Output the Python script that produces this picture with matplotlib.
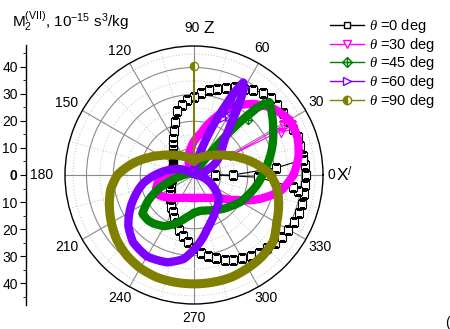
import numpy as np
import matplotlib
matplotlib.use('Agg')
import matplotlib.pyplot as plt
from matplotlib.lines import Line2D
from matplotlib.path import Path

plt.rcParams['font.family'] = ['Liberation Sans', 'DejaVu Sans']
plt.rcParams['mathtext.fontset'] = 'custom'
plt.rcParams['mathtext.rm'] = 'Liberation Sans'
plt.rcParams['mathtext.it'] = 'Liberation Serif:italic'

# ---- M2 values (10^-15 s^3/kg) vs azimuth phi (deg) in the X'Z plane ----
# theta = 0 deg
phi_0 = list(range(0, 360, 5))
r_0 = [41.5, 41.3, 41, 41, 41, 40.8, 40.5, 40.5, 40.5, 40.3, 40, 38.5,
       37, 36, 34.5, 33, 32, 30.5, 29, 28, 26.5, 24.5, 21, 18,
       15.5, 13.5, 12, 11, 10, 9.5, 9, 8.7, 8.5, 8.2, 8, 8,
       8, 8.2, 8.5, 8.7, 9, 9.5, 10, 10.7, 11.5, 12.5, 13.5, 14.7,
       16, 17.5, 19, 21, 23, 25, 27, 29, 30.5, 32, 33.5, 34.7,
       35.8, 36.8, 37.7, 38.5, 39.2, 40, 40.6, 41, 41.4, 41.6, 41.6, 41.6]
# scattered values near phi = 0
phi_0s = [351, 353, 358, 0, 0, 5, 8]
r_0s = [39, 37, 23.7, 7.8, 14.4, 30.8, 41]

# theta = 30 deg
phi_30 = [0, 10, 20, 30, 40, 50, 60, 70, 80, 90, 100, 110, 120, 130, 140, 150,
          160, 170, 180, 190, 200, 210, 220, 230, 240, 250, 260, 270, 280,
          290, 300, 310, 320, 330, 340, 350]
r_30 = [37, 39.5, 41, 41, 38.5, 34.5, 29.5, 22.5, 16, 12.5, 9, 6, 3, 1, 0.5, 1.5,
        3.5, 6.5, 10.5, 13.5, 15, 15, 13, 11, 9.8, 9, 8.6, 8.5, 8.6,
        9, 9.8, 11, 13.5, 18.5, 26, 33]
phi_30s = [25, 26, 27, 28, 29, 30]
r_30s = [40.5, 36, 41, 15, 38, 40.5]

# theta = 45 deg
phi_45 = [0, 10, 20, 30, 40, 44, 47, 50, 53, 57, 65, 80, 100, 120, 140, 160,
          175, 185, 190, 195, 200, 205, 210, 217, 225, 230, 240, 250, 260,
          270, 280, 290, 300, 310, 320, 330, 340, 350]
r_45 = [25.5, 28, 31, 34, 37.5, 39, 34, 22.5, 10, 4, 1.5, 0.8, 0.5, 0.5, 0.8, 1.5,
        3, 5, 7, 9.5, 13, 16.5, 20, 24, 24, 23.5, 22, 19, 16,
        14, 13.5, 14, 15, 16.5, 18, 20, 21.5, 23.5]
phi_45s = [44, 45.5, 46]
r_45s = [39, 28.5, 37]

# theta = 60 deg
phi_60 = [0, 10, 20, 30, 40, 45, 50, 54, 57, 60, 62, 64, 66, 68, 70, 73, 76,
          80, 90, 100, 120, 140, 150, 160, 170, 180, 189, 200, 207, 218, 228,
          240, 253, 263, 272, 283, 290, 299, 310, 316, 320, 330, 340, 350]
r_60 = [1, 2, 5, 9.5, 13, 15, 18, 23, 30, 37, 39, 34, 27, 22, 17, 11, 7,
        4, 1.5, 0.7, 0.5, 1.5, 3.5, 6.5, 10, 14.5, 19, 23.5, 26.5, 31, 33.8,
        35, 34, 31.5, 26.7, 21, 18.5, 16, 14, 13, 11.5, 8, 5, 2.5]
phi_60s = [58, 59, 60, 61, 62, 63, 64]
r_60s = [30, 25, 38, 28, 36, 24, 33]

# theta = 90 deg
phi_90 = [0, 10, 20, 30, 40, 50, 60, 70, 80, 90, 100, 110, 120, 130, 140, 150,
          160, 170, 180, 190, 200, 210, 220, 230, 240, 250, 260, 270, 280,
          290, 300, 310, 320, 330, 340, 350]
r_90 = [28.5, 23.5, 18.5, 14.5, 11.5, 9.5, 8, 7, 6, 5, 6, 7, 8, 9.5, 11.5, 14.5,
        18.5, 23.5, 28.5, 31.5, 33.5, 35.5, 37.5, 39, 40, 40.5, 40.5, 40.5, 40.5,
        40.5, 40, 39.5, 38.5, 35.5, 33.5, 31.5]
phi_90s = [89, 90, 91]
r_90s = [5, 40.5, 5]

labels = [r'$\mathit{\theta}$ =0 deg', r'$\mathit{\theta}$ =30 deg',
          r'$\mathit{\theta}$ =45 deg', r'$\mathit{\theta}$ =60 deg',
          r'$\mathit{\theta}$ =90 deg']
angle_ticks = list(range(0, 360, 30))

c_mag, c_grn, c_pur, c_olv = '#ff00ff', '#008000', '#8000ff', '#808000'

# crossed diamond marker
cross_diamond = Path([(0, 1), (1, 0), (0, -1), (-1, 0), (0, 1), (0, 1), (0, -1), (-1, 0), (1, 0)],
                     [Path.MOVETO, Path.LINETO, Path.LINETO, Path.LINETO, Path.LINETO,
                      Path.MOVETO, Path.LINETO, Path.MOVETO, Path.LINETO])


def closed(phi, r):
    p = np.deg2rad(np.array(phi + [phi[0] + 360], dtype=float))
    return p, np.array(r + [r[0]], dtype=float)


def curved(lines, steps=24):
    # let the polar transform bend segments along (theta, r)
    for ln in lines:
        ln.get_path()._interpolation_steps = steps
    return lines


fig = plt.figure(figsize=(4.5, 3.29), dpi=100)
ax = fig.add_axes([65 / 450, 25 / 329, 258 / 450, 258 / 329], projection='polar')
ax.set_ylim(0, 48)
ax.set_xticks(np.deg2rad(angle_ticks))
ax.set_xticks(np.deg2rad(np.arange(15, 360, 30)), minor=True)
ax.set_yticks([10, 20, 30, 40])
ax.set_yticks([5, 15, 25, 35, 45], minor=True)
ax.set_xticklabels([])
ax.set_yticklabels([])
ax.grid(which='major', color='#8a8a8a', lw=0.8, ls='-')
ax.grid(which='minor', color='#c0c0c0', lw=0.7, ls=(0, (1, 2)))
ax.tick_params(axis='x', which='major', direction='inout', length=6, width=0.8, color='k')
ax.tick_params(axis='x', which='minor', direction='in', length=3, width=0.6, color='k')
ax.tick_params(axis='y', which='both', length=0)
ax.spines['polar'].set_linewidth(1.0)

# theta = 0 : open squares
p, r = closed(phi_0, r_0)
curved(ax.plot(p, r, color='k', lw=0.8, marker='s', ms=5.5, mfc='white', mec='k',
               mew=0.8, zorder=3))
ax.plot(np.deg2rad(phi_0s), r_0s, color='k', lw=0.8, marker='s', ms=5.5, mfc='white',
        mec='k', mew=0.8, zorder=3)

# dense-marker curves drawn as bands
for phi, rr, sphi, sr, col, mk, z in [
        (phi_30, r_30, phi_30s, r_30s, c_mag, 'v', 4),
        (phi_45, r_45, phi_45s, r_45s, c_grn, cross_diamond, 5),
        (phi_60, r_60, phi_60s, r_60s, c_pur, '>', 6)]:
    p, r = closed(phi, rr)
    curved(ax.plot(p, r, color=col, lw=6, solid_joinstyle='round', solid_capstyle='round',
                   zorder=z))
    ax.plot(np.deg2rad(sphi), sr, color=col, lw=0.8, marker=mk, ms=6, mfc='none',
            mec=col, mew=0.9, zorder=z)

p, r = closed(phi_90, r_90)
curved(ax.plot(p, r, color=c_olv, lw=6.5, solid_joinstyle='round', zorder=7))
ax.plot(np.deg2rad(phi_90s), r_90s, color=c_olv, lw=1.2, zorder=7)
ax.plot(np.deg2rad(phi_90s[1]), r_90s[1], marker='o', ms=6, fillstyle='left', mfc=c_olv,
        mfcalt='white', mec=c_olv, mew=0.9, zorder=8)

# angle labels around the rim (offsets in pixels)
lab_off = {0: (8.5, 0), 30: (10, 8.5), 60: (3.5, 15), 90: (-1.5, 18.5), 120: (-9.5, 12.5),
           150: (-15.5, 7.5), 180: (-23, 0), 210: (-15.5, -7.5), 240: (-9.5, -11.5),
           270: (0, -13.5), 300: (8, -11.5), 330: (14, -7.5)}
for a in angle_ticks:
    dx, dy = lab_off[a]
    ax.annotate(str(a), xy=(np.deg2rad(a), 48), xytext=(dx * 0.72, dy * 0.72),
                textcoords='offset points', ha='center', va='center', fontsize=10,
                annotation_clip=False)

fig.text(203 / 450, 1 - 33 / 329, 'Z', fontsize=12.5, va='baseline')
fig.text(336 / 450, 1 - 181 / 329, r'X$^{/}$', fontsize=12.5, va='baseline')

# left radial scale
ax2 = fig.add_axes([26 / 450, 24 / 329, 0.001, 260 / 329])
ax2.set_ylim(-48, 48)
ax2.set_yticks(range(-40, 41, 10))
ax2.set_yticks(range(-45, 46, 5), minor=True)
ax2.set_yticklabels([str(abs(v)) for v in range(-40, 41, 10)], fontsize=10)
for t in ax2.get_yticklabels():
    if t.get_text() == '0':
        t.set_fontweight('bold')
ax2.set_xticks([])
for s in ['top', 'right', 'bottom']:
    ax2.spines[s].set_visible(False)
ax2.spines['left'].set_linewidth(1.0)
ax2.tick_params(axis='y', which='major', direction='out', length=4, width=0.8, pad=2)
ax2.tick_params(axis='y', which='minor', direction='out', length=2, width=0.6)
ax2.patch.set_visible(False)

fig.text(12 / 450, 1 - 27 / 329, r'M$_2^{\rm (VII)}$, 10$^{-15}$ s$^3$/kg', fontsize=11,
         va='baseline')

handles = [
    Line2D([], [], color='k', lw=1, marker='s', ms=5, mfc='white', mec='k'),
    Line2D([], [], color=c_mag, lw=1, marker='v', ms=6, mfc='white', mec=c_mag),
    Line2D([], [], color=c_grn, lw=1, marker=cross_diamond, ms=7, mfc='none', mec=c_grn),
    Line2D([], [], color=c_pur, lw=1, marker='>', ms=6, mfc='white', mec=c_pur),
    Line2D([], [], color=c_olv, lw=1, marker='o', ms=6, fillstyle='left', mfc=c_olv,
           mfcalt='white', mec=c_olv),
]
fig.legend(handles, labels, loc='upper left', bbox_to_anchor=(330 / 450, 1 - 17 / 329),
           frameon=False, fontsize=10.5, handlelength=2.3, handletextpad=0.4,
           labelspacing=0.05, borderaxespad=0, borderpad=0)

fig.text(445 / 450, 1 - 327 / 329, '(', fontsize=10, va='baseline')

fig.savefig('out.png', dpi=100)
